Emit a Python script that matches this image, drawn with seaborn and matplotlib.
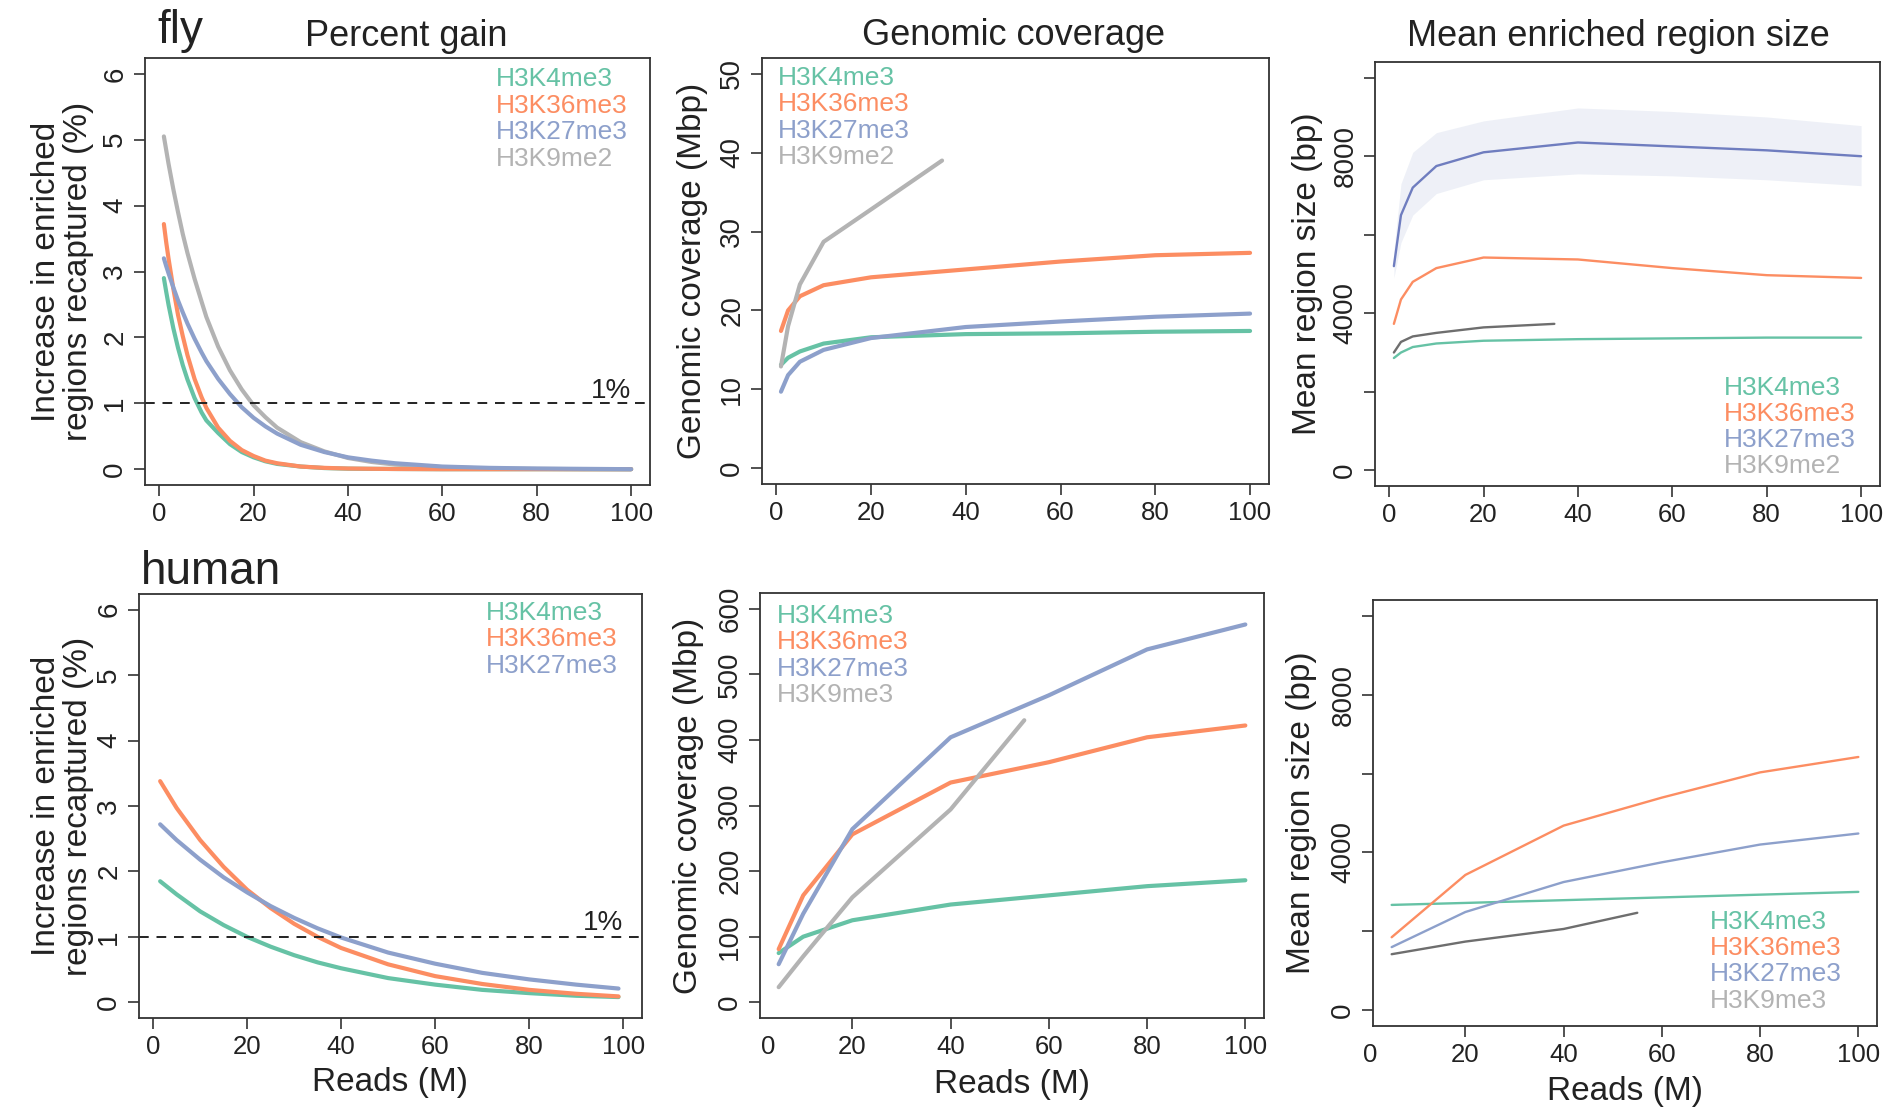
import matplotlib
matplotlib.use("Agg")
import matplotlib.pyplot as plt
import matplotlib.transforms as mtransforms
import pandas as pd
import seaborn as sns

# --- Data ---
marks_fly = ["H3K4me3", "H3K36me3", "H3K27me3", "H3K9me2"]
marks_human = ["H3K4me3", "H3K36me3", "H3K27me3", "H3K9me3"]

# fly, percent gain
fly_gain_x = [1, 1.5, 2, 3, 4, 5, 6, 7.5, 9, 10, 12.5, 15, 17.5, 20, 22.5, 25, 30, 35, 40, 45, 50, 60, 70, 80, 90, 100]
fly_gain_k4 = [2.90, 2.69, 2.49, 2.14, 1.84, 1.58, 1.36, 1.08, 0.86, 0.74, 0.55, 0.38, 0.26, 0.18, 0.12, 0.08,
               0.04, 0.017, 0.008, 0.005, 0.003, 0, 0, 0, 0, 0]
fly_gain_k36 = [3.72, 3.44, 3.19, 2.74, 2.34, 2.02, 1.73, 1.37, 1.09, 0.93, 0.63, 0.43, 0.29, 0.20, 0.13, 0.09,
                0.04, 0.02, 0.01, 0.006, 0.003, 0, 0, 0, 0, 0]
fly_gain_k27 = [3.20, 3.08, 2.97, 2.76, 2.56, 2.38, 2.21, 1.98, 1.77, 1.64, 1.37, 1.14, 0.94, 0.78, 0.65, 0.54,
                0.37, 0.26, 0.18, 0.13, 0.09, 0.04, 0.02, 0.01, 0.005, 0]
fly_gain_k9 = [5.05, 4.84, 4.63, 4.25, 3.90, 3.57, 3.28, 2.89, 2.54, 2.31, 1.86, 1.50, 1.21, 0.97, 0.79, 0.63,
               0.41, 0.27, 0.17, 0.11, 0.07, 0.03, 0.01, 0.005, 0, 0]

# fly, genomic coverage (Mbp)
fly_x = [1, 2.5, 5, 10, 20, 40, 60, 80, 100]
fly_k9_x = [1, 2.5, 5, 10, 20, 35]
fly_cov_k4 = [13.1, 14.0, 14.8, 15.8, 16.6, 17.0, 17.1, 17.3, 17.4]
fly_cov_k36 = [17.4, 20.0, 21.8, 23.2, 24.2, 25.2, 26.2, 27.0, 27.3]
fly_cov_k27 = [9.7, 11.8, 13.5, 15.0, 16.5, 17.9, 18.6, 19.2, 19.6]
fly_cov_k9 = [12.9, 18.0, 23.3, 28.7, 32.8, 39.0]

# fly, mean region size (bp)
fly_size_k4 = [2860, 3000, 3140, 3230, 3300, 3340, 3360, 3380, 3380]
fly_size_k36 = [3730, 4350, 4800, 5150, 5420, 5370, 5150, 4970, 4900]
fly_size_k27 = [5200, 6500, 7200, 7750, 8100, 8350, 8250, 8150, 8000]
fly_size_k27_lo = [4900, 5800, 6500, 7050, 7400, 7550, 7500, 7400, 7250]
fly_size_k27_hi = [5600, 7300, 8100, 8600, 8900, 9230, 9140, 9000, 8780]
fly_size_k9 = [3000, 3270, 3410, 3500, 3640, 3730]

# human, percent gain
hum_gain_x = [1.5, 5, 10, 15, 20, 25, 30, 35, 40, 50, 60, 70, 80, 90, 99]
hum_gain_k4 = [1.85, 1.65, 1.39, 1.18, 1.00, 0.85, 0.72, 0.61, 0.52, 0.37, 0.27, 0.19, 0.14, 0.10, 0.08]
hum_gain_k36 = [3.38, 2.97, 2.48, 2.07, 1.72, 1.44, 1.20, 1.00, 0.83, 0.58, 0.40, 0.28, 0.19, 0.13, 0.09]
hum_gain_k27 = [2.72, 2.48, 2.18, 1.91, 1.68, 1.47, 1.29, 1.13, 0.99, 0.76, 0.59, 0.45, 0.35, 0.27, 0.21]

# human, genomic coverage (Mbp)
hum_cov_x = [5, 10, 20, 40, 60, 80, 100]
hum_k9_cov_x = [5, 10, 20, 40, 55]
hum_cov_k4 = [75, 100, 125, 149, 163, 177, 186]
hum_cov_k36 = [81, 163, 256, 335, 366, 404, 422]
hum_cov_k27 = [58, 135, 264, 404, 468, 538, 576]
hum_cov_k9 = [23, 70, 160, 294, 430]

# human, mean region size (bp)
hum_size_x = [5, 20, 40, 60, 80, 100]
hum_k9_size_x = [5, 20, 40, 55]
hum_size_k4 = [2670, 2720, 2790, 2860, 2930, 3000]
hum_size_k36 = [1850, 3430, 4680, 5390, 6030, 6420]
hum_size_k27 = [1600, 2490, 3250, 3750, 4200, 4480]
hum_size_k9 = [1420, 1740, 2060, 2470]

# --- Style ---
sns.set_theme(style="ticks")
plt.rcParams['font.family'] = ['Liberation Sans', 'DejaVu Sans']
plt.rcParams['axes.edgecolor'] = '#333333'
plt.rcParams['axes.linewidth'] = 1.3

pal = sns.color_palette("Set2")
GREEN, ORANGE, BLUE, GRAY = pal[0], pal[1], pal[2], pal[7]
DARKBLUE = '#6f7dbf'
DARKGRAY = '#6e6e6e'
TXT = '#222222'

W, H = 1893, 1112
fig = plt.figure(figsize=(W / 100, H / 100), dpi=100)


def box(l, r, t, b):
    return [l / W, 1 - b / H, (r - l) / W, (b - t) / H]


def lines(ax, series, lw):
    # series: list of (x, y, color)
    for x, y, c in series:
        df = pd.DataFrame({'x': x, 'y': y})
        sns.lineplot(data=df, x='x', y='y', color=c, lw=lw, ax=ax,
                     solid_capstyle='round', solid_joinstyle='round')


def style(ax, xlim, ylim, ylabel, ylab_x, xlabel=None, xlab_y=None):
    ax.set_xlim(*xlim)
    ax.set_ylim(*ylim)
    ax.tick_params(direction='out', length=8, width=1.2, pad=4,
                   color='#333333', labelcolor=TXT)
    ax.tick_params(axis='x', labelsize=18.5)
    ax.tick_params(axis='y', labelsize=20, labelrotation=90)
    for lab in ax.get_yticklabels():
        lab.set_va('center')
    ax.set_ylabel(ylabel, fontsize=24, color=TXT, linespacing=1.05)
    ax.yaxis.set_label_coords(ylab_x, 0.5)
    if xlabel:
        ax.set_xlabel(xlabel, fontsize=24, color=TXT)
        ax.xaxis.set_label_coords(0.5, xlab_y)
    else:
        ax.set_xlabel('')
    for s in ax.spines.values():
        s.set_visible(True)


def legend(ax, x, y0, labels, colors, step):
    for i, (lab, c) in enumerate(zip(labels, colors)):
        ax.text(x, y0 - i * step, lab, color=c, fontsize=19, ha='left', va='center',
                transform=ax.transAxes)


legend_colors = [GREEN, ORANGE, BLUE, GRAY]
gain_ylabel = "Increase in enriched\nregions recaptured (%)"

# --- Panel 1: fly percent gain ---
ax1 = fig.add_axes(box(145, 650, 58, 485))
lines(ax1, [(fly_gain_x, fly_gain_k9, GRAY), (fly_gain_x, fly_gain_k4, GREEN),
            (fly_gain_x, fly_gain_k36, ORANGE), (fly_gain_x, fly_gain_k27, BLUE)], 3)
ax1.axhline(1, color=TXT, lw=1.4, ls=(0, (5, 4)))
ax1.text(100, 1.08, "1%", ha='right', va='baseline', fontsize=20, color=TXT)
ax1.set_xticks([0, 20, 40, 60, 80, 100])
ax1.set_yticks([0, 1, 2, 3, 4, 5, 6])
style(ax1, (-3, 104), (-0.24, 6.24), gain_ylabel, -0.10)
legend(ax1, 0.695, 0.950, marks_fly, legend_colors, 0.062)

# --- Panel 2: fly genomic coverage ---
ax2 = fig.add_axes(box(762, 1269, 58, 484))
lines(ax2, [(fly_x, fly_cov_k4, GREEN), (fly_x, fly_cov_k36, ORANGE),
            (fly_x, fly_cov_k27, BLUE), (fly_k9_x, fly_cov_k9, GRAY)], 3)
ax2.set_xticks([0, 20, 40, 60, 80, 100])
ax2.set_yticks([0, 10, 20, 30, 40, 50])
style(ax2, (-3, 104), (-2, 52), "Genomic coverage (Mbp)", -0.107)
legend(ax2, 0.032, 0.953, marks_fly, legend_colors, 0.062)

# --- Panel 3: fly mean region size ---
ax3 = fig.add_axes(box(1375, 1880, 62, 486))
ax3.fill_between(fly_x, fly_size_k27_lo, fly_size_k27_hi, color=BLUE, alpha=0.15, lw=0)
lines(ax3, [(fly_x, fly_size_k4, GREEN), (fly_x, fly_size_k36, ORANGE),
            (fly_x, fly_size_k27, DARKBLUE), (fly_k9_x, fly_size_k9, DARKGRAY)], 1.7)
ax3.set_xticks([0, 20, 40, 60, 80, 100])
ax3.set_yticks([0, 2000, 4000, 6000, 8000, 10000],
               labels=['0', '', '4000', '', '8000', ''])
style(ax3, (-3, 104), (-400, 10400), "Mean region size (bp)", -0.103)
legend(ax3, 0.69, 0.232, marks_fly, legend_colors, 0.062)

# --- Panel 4: human percent gain ---
ax4 = fig.add_axes(box(139, 642, 594, 1018))
lines(ax4, [(hum_gain_x, hum_gain_k4, GREEN), (hum_gain_x, hum_gain_k36, ORANGE),
            (hum_gain_x, hum_gain_k27, BLUE)], 3)
ax4.axhline(1, color=TXT, lw=1.4, ls=(0, (5, 4)))
ax4.text(100, 1.1, "1%", ha='right', va='baseline', fontsize=20, color=TXT)
ax4.set_xticks([0, 20, 40, 60, 80, 100])
ax4.set_yticks([0, 1, 2, 3, 4, 5, 6])
style(ax4, (-3, 104), (-0.24, 6.24), gain_ylabel, -0.089, "Reads (M)", -0.116)
legend(ax4, 0.69, 0.955, marks_human[:3], legend_colors[:3], 0.062)

# --- Panel 5: human genomic coverage ---
ax5 = fig.add_axes(box(760, 1264, 593, 1018))
lines(ax5, [(hum_cov_x, hum_cov_k4, GREEN), (hum_cov_x, hum_cov_k36, ORANGE),
            (hum_cov_x, hum_cov_k27, BLUE), (hum_k9_cov_x, hum_cov_k9, GRAY)], 3)
ax5.set_xticks([20, 40, 60, 80, 100])
ax5.set_yticks([0, 100, 200, 300, 400, 500, 600])
style(ax5, (1.2, 103.8), (-24, 624), "Genomic coverage (Mbp)", -0.111, "Reads (M)", -0.12)
legend(ax5, 0.034, 0.946, marks_human, legend_colors, 0.062)

# --- Panel 6: human mean region size ---
ax6 = fig.add_axes(box(1373, 1877, 600, 1026))
lines(ax6, [(hum_size_x, hum_size_k4, GREEN), (hum_size_x, hum_size_k36, ORANGE),
            (hum_size_x, hum_size_k27, BLUE), (hum_k9_size_x, hum_size_k9, DARKGRAY)], 1.7)
ax6.set_xticks([20, 40, 60, 80, 100])
ax6.set_yticks([0, 2000, 4000, 6000, 8000, 10000],
               labels=['0', '', '4000', '', '8000', ''])
style(ax6, (1.2, 103.8), (-400, 10400), "Mean region size (bp)", -0.111, "Reads (M)", -0.117)
legend(ax6, 0.669, 0.245, marks_human, legend_colors, 0.062)

# the stray "0" label under the two right-hand bottom panels
for ax, x0 in [(ax5, 2.9), (ax6, 0.6)]:
    tr = mtransforms.offset_copy(ax.get_xaxis_transform(), fig=fig, y=-12, units='points')
    ax.text(x0, 0, "0", transform=tr, ha='center', va='top', fontsize=18.5,
            color=TXT, clip_on=False)

# --- Titles and row labels ---
fig.text(406 / W, 1 - 46 / H, "Percent gain", ha='center', va='baseline', fontsize=26, color=TXT)
fig.text(1013 / W, 1 - 45 / H, "Genomic coverage", ha='center', va='baseline', fontsize=26, color=TXT)
fig.text(1618 / W, 1 - 46 / H, "Mean enriched region size", ha='center', va='baseline', fontsize=26, color=TXT)
fig.text(157 / W, 1 - 43 / H, "fly", ha='left', va='baseline', fontsize=33, color=TXT)
fig.text(141 / W, 1 - 584 / H, "human", ha='left', va='baseline', fontsize=33, color=TXT)

fig.savefig("out.png", dpi=100, facecolor='white')
